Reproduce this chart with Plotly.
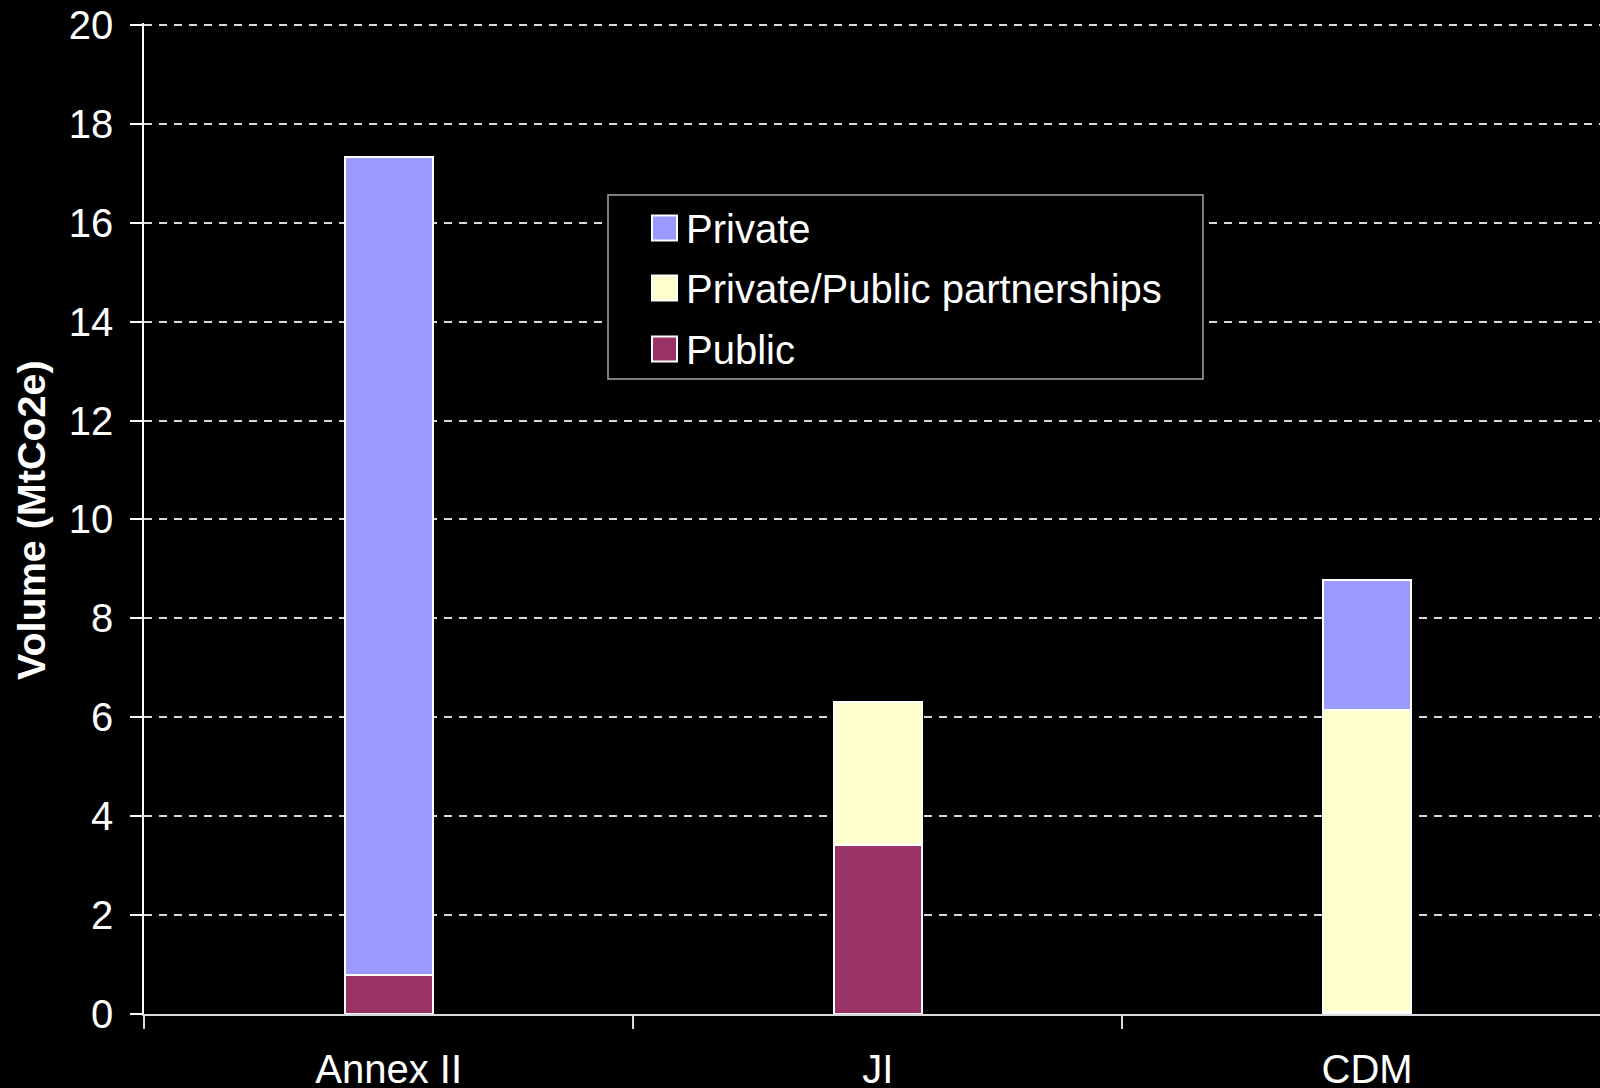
import plotly.graph_objects as go

# Buyer categories and volumes (MtCO2e) by type of buyer
categories = ["Annex II", "JI", "CDM"]
series_names = ["Public", "Private/Public partnerships", "Private"]
public = [0.78, 3.41, 0.04]
partnership = [0.0, 2.89, 6.11]
private = [16.55, 0.0, 2.62]
series_values = [public, partnership, private]
series_colors = ["#993366", "#FFFFCC", "#9999FF"]

y_ticks = list(range(0, 21, 2))

W, H = 1600, 1088
Y_TOP = 20.04  # a touch above 20 so the top gridline is drawn
M_L, M_R, M_B = 144, 0, 74
M_T = 25 - (Y_TOP - 20) * (H - 25 - M_B) / 20
FONT = "Liberation Sans, Arial, sans-serif"

fig = go.Figure()
for name, vals, col in zip(series_names, series_values, series_colors):
    fig.add_trace(go.Bar(
        x=categories, y=vals, name=name, width=0.18,
        marker=dict(color=col, line=dict(color="white", width=2)),
        showlegend=False,
    ))

# legend box drawn in paper coordinates (large swatches)
plot_w = W - M_L - M_R
plot_h = H - M_T - M_B


def px_x(px):
    return (px - M_L) / plot_w


def px_y(py):
    return (H - M_B - py) / plot_h


shapes = [dict(type="rect", xref="paper", yref="paper",
               x0=px_x(608), x1=px_x(1203), y0=px_y(379), y1=px_y(195),
               line=dict(color="#a6a6a6", width=1.5), fillcolor="black", layer="above")]
annotations = []
legend_order = [2, 1, 0]  # Private, Private/Public partnerships, Public
row_centers = [228, 288, 349]
for row_y, idx in zip(row_centers, legend_order):
    shapes.append(dict(type="rect", xref="paper", yref="paper",
                       x0=px_x(652), x1=px_x(677), y0=px_y(row_y + 12.5), y1=px_y(row_y - 12.5),
                       line=dict(color="white", width=2), fillcolor=series_colors[idx], layer="above"))
    annotations.append(dict(xref="paper", yref="paper", x=px_x(684), y=px_y(row_y + 1),
                            text=series_names[idx], showarrow=False, xanchor="left", yanchor="middle",
                            font=dict(family=FONT, size=40, color="white")))

# y-axis title
annotations.append(dict(xref="paper", yref="paper", x=px_x(31), y=px_y(520),
                        text="<b>Volume (MtCo2e)</b>", textangle=-90, showarrow=False,
                        xanchor="center", yanchor="middle",
                        font=dict(family=FONT, size=39.5, color="white")))

fig.update_layout(
    width=W, height=H,
    margin=dict(l=M_L, r=M_R, t=M_T, b=M_B, pad=0),
    paper_bgcolor="black", plot_bgcolor="black",
    barmode="stack", bargap=0,
    font=dict(family=FONT, size=40, color="white"),
    shapes=shapes, annotations=annotations,
    xaxis=dict(
        type="category", range=[-0.5, 2.476], automargin=False,
        showline=True, linecolor="#d9d9d9", linewidth=1.5,
        ticks="outside", tickson="boundaries", ticklen=13, tickcolor="#d9d9d9", tickwidth=1.5,
        showgrid=False, zeroline=False,
        tickfont=dict(family=FONT, size=40, color="white"),
        ticklabelstandoff=19,
    ),
    yaxis=dict(
        range=[0, Y_TOP], tickvals=y_ticks, ticktext=[str(v) for v in y_ticks],
        automargin=False,
        showline=True, linecolor="white", linewidth=1.5,
        ticks="outside", ticklen=12, tickcolor="white", tickwidth=1.5,
        showgrid=True, gridcolor="#d9d9d9", gridwidth=1.5, griddash="8px,7px",
        zeroline=False,
        tickfont=dict(family=FONT, size=40, color="white"),
        ticklabelstandoff=9,
    ),
)

fig.write_html("out.html")
